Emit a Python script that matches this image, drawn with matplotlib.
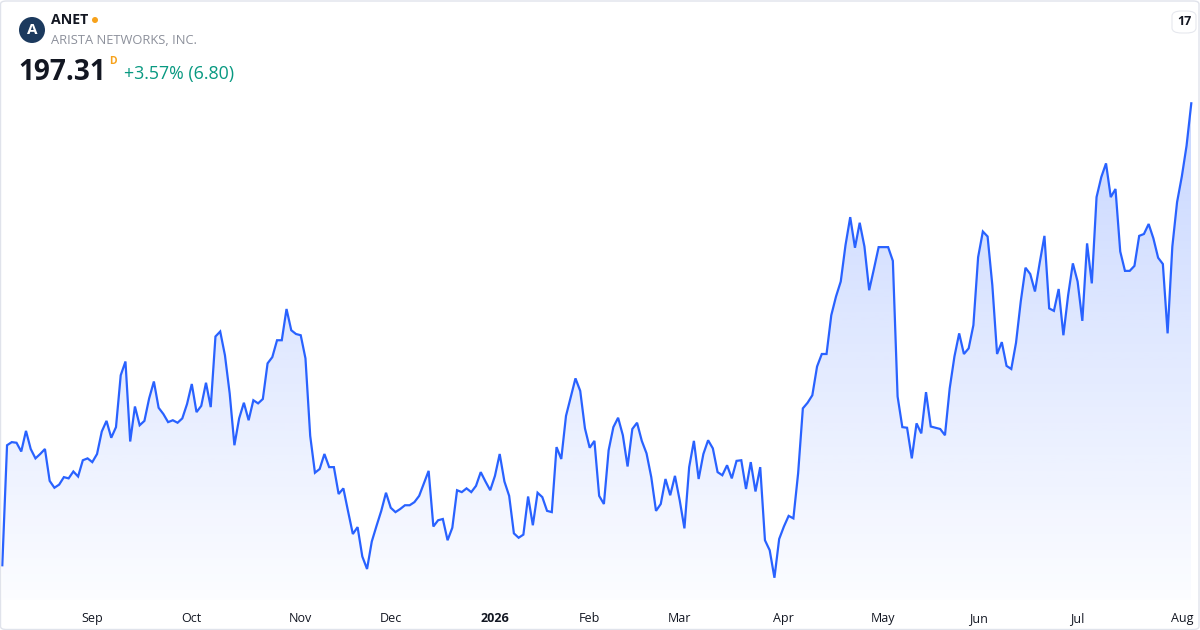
import matplotlib
matplotlib.use("Agg")
import matplotlib.pyplot as plt
import numpy as np
import pandas as pd
from matplotlib.patches import FancyBboxPatch, Ellipse

# ---------------- data ----------------
ticker = "ANET"
company = "ARISTA NETWORKS, INC."
last_price_text = "197.31"
change_text = "+3.57% (6.80)"

holidays = ["2025-09-01", "2025-11-27", "2025-12-25", "2026-01-01", "2026-01-19",
            "2026-02-16", "2026-04-03", "2026-05-25", "2026-06-19", "2026-07-03"]
start_date = "2025-08-05"
end_date = "2026-08-05"

prices = [
    123.4, 142.6, 143.1, 143.0, 141.6, 144.9, 142.0, 140.5, 141.2, 142.0,
    136.9, 135.8, 136.3, 137.5, 137.3, 138.4, 137.6, 140.2, 140.5, 139.9,
    141.2, 144.8, 146.5, 143.8, 145.5, 153.8, 156.0, 143.2, 148.8, 145.8,
    146.5, 150.1, 152.8, 148.6, 147.6, 146.3, 146.6, 146.2, 146.9, 149.2,
    152.4, 147.9, 148.9, 152.6, 148.7, 160.0, 160.8, 157.0, 150.9, 142.6,
    146.9, 149.4, 146.6, 149.8, 149.3, 150.0, 155.7, 156.7, 159.4, 159.4,
    164.4, 161.0, 160.4, 160.2, 156.5, 144.1, 138.2, 138.8, 141.2, 139.1,
    139.1, 134.8, 135.7, 132.0, 128.4, 129.5, 124.8, 122.8, 127.2, 129.7,
    132.1, 135.0, 132.6, 131.9, 132.4, 133.0, 133.0, 133.5, 134.5, 136.5,
    138.5, 129.6, 130.6, 130.8, 127.4, 129.4, 135.4, 135.1, 135.7, 135.1,
    136.1, 138.3, 136.8, 135.4, 137.7, 141.2, 136.8, 134.5, 128.5, 127.8,
    128.3, 134.4, 129.8, 135.0, 134.3, 132.1, 131.9, 142.3, 140.4, 147.3,
    150.3, 153.3, 151.3, 145.3, 142.2, 143.3, 134.5, 133.2, 141.8, 145.5,
    147.0, 144.2, 139.2, 145.2, 146.2, 143.3, 141.3, 137.5, 132.1, 133.2,
    137.2, 134.6, 137.7, 133.8, 129.3, 139.1, 143.3, 137.2, 141.2, 143.4,
    142.1, 138.3, 137.8, 139.4, 137.3, 140.1, 140.2, 135.6, 139.9, 135.2,
    139.1, 127.4, 125.8, 121.4, 127.6, 129.6, 131.3, 130.9, 138.1, 148.5,
    149.4, 150.6, 155.2, 157.2, 157.2, 163.4, 166.4, 168.8, 174.6, 179.1,
    174.2, 178.2, 174.4, 167.4, 170.8, 174.3, 174.3, 174.3, 172.1, 150.4,
    145.5, 145.4, 140.5, 146.1, 144.5, 151.1, 145.6, 145.4, 145.2, 144.2,
    151.7, 156.8, 160.5, 157.2, 158.1, 161.8, 172.7, 176.8, 176.0, 168.2,
    157.2, 159.1, 155.3, 154.8, 159.0, 165.6, 171.0, 170.0, 167.2, 171.8,
    176.1, 164.5, 164.1, 167.6, 160.2, 166.6, 171.7, 168.8, 162.5, 174.9,
    168.5, 182.3, 185.5, 187.7, 182.3, 183.6, 173.6, 170.5, 170.5, 171.3,
    176.1, 176.4, 178.0, 175.7, 172.6, 171.6, 160.5, 174.4, 181.5, 185.6,
    190.51, 197.31,
]

# ---------------- build ----------------
W, H = 1200, 630
fig = plt.figure(figsize=(W / 100, H / 100), dpi=100)
fig.patch.set_facecolor("white")

FONT = ["Open Sans", "DejaVu Sans"]
plt.rcParams["font.family"] = FONT

dates = pd.bdate_range(start_date, end_date, freq="C", holidays=holidays)
n = min(len(dates), len(prices))
dates = dates[:n]
y = np.array(prices[:n], dtype=float)
x = np.arange(n)

ax = fig.add_axes([0, 30 / H, 1, 510 / H])
ax.set_facecolor("none")
step = 4.737
x0 = 2.3
ax.set_xlim(-x0 / step, (W - x0) / step)
ymin, ymax = 117.84, 199.44
ax.set_ylim(ymin, ymax)

line_color = "#2962FF"
ax.plot(x, y, color=line_color, lw=1.6, solid_joinstyle="miter", zorder=3)

# gradient fill under the line
poly = ax.fill_between(x, y, ymin, facecolor="none", edgecolor="none")
grad_n = 256
alphas = np.linspace(0.26, 0.015, grad_n)  # top -> bottom
rgba = np.zeros((grad_n, 1, 4))
rgba[:, 0, 0] = 41 / 255
rgba[:, 0, 1] = 98 / 255
rgba[:, 0, 2] = 255 / 255
rgba[:, 0, 3] = alphas
im = ax.imshow(rgba, extent=[x[0], x[-1], ymin, y.max()], aspect="auto",
               origin="upper", zorder=2, interpolation="bilinear")
im.set_clip_path(poly.get_paths()[0], transform=ax.transData)

# month ticks at first trading day of each month
s = pd.Series(x, index=dates)
firsts = s.groupby([dates.year, dates.month]).first()
tick_pos, tick_lab = [], []
for (yr, mo), idx in firsts.items():
    if idx == 0:
        continue
    tick_pos.append(idx)
    tick_lab.append(str(yr) if mo == 1 else dates[idx].strftime("%b"))
ax.set_xticks(tick_pos)
ax.set_xticklabels(tick_lab, fontsize=9, color="#131722")
for t in ax.get_xticklabels():
    if t.get_text().isdigit():
        t.set_fontweight("bold")
ax.tick_params(axis="x", length=0, pad=8.5)
ax.set_yticks([])
for sp in ax.spines.values():
    sp.set_visible(False)

# ---------------- header ----------------
def fx(px):
    return px / W

def fy(py):
    return 1 - py / H

logo = Ellipse((fx(32), fy(30)), width=26 / W, height=26 / H, transform=fig.transFigure,
               facecolor="#1c3a5e", edgecolor="none")
fig.patches.append(logo)
fig.text(fx(32), fy(30.5), "A", color="white", fontsize=11, fontweight="bold",
         ha="center", va="center")

fig.text(fx(51), fy(20), ticker, fontsize=10.2, fontweight="bold", color="#131722",
         ha="left", va="center")
dot = Ellipse((fx(95), fy(20)), width=6 / W, height=6 / H, transform=fig.transFigure,
              facecolor="#f7a21b", edgecolor="none")
fig.patches.append(dot)
fig.text(fx(51), fy(41), company, fontsize=9.3, color="#8c909b", ha="left", va="center")

fig.text(fx(18), fy(72), last_price_text, fontsize=20.2, fontweight="bold",
         color="#131722", ha="left", va="center")
fig.text(fx(109), fy(61), "D", fontsize=7.5, fontweight="bold", color="#f7a21b",
         ha="left", va="center")
fig.text(fx(124), fy(74), change_text, fontsize=12.8, color="#089981",
         ha="left", va="center")

# TradingView badge top right
badge = FancyBboxPatch((fx(1172), fy(33)), 24 / W, 22 / H,
                       boxstyle="round,pad=0,rounding_size=0.008",
                       transform=fig.transFigure, facecolor="white",
                       edgecolor="#e6e8ee", lw=0.8)
fig.patches.append(badge)
fig.text(fx(1184), fy(21.5), "17", fontsize=9, fontweight="bold", color="#131722",
         ha="center", va="center")

# outer frame
frame = FancyBboxPatch((0.5 / W, 0.5 / H), 1 - 1.5 / W, 1 - 1.5 / H,
                       boxstyle="round,pad=0,rounding_size=0.005",
                       transform=fig.transFigure, facecolor="none",
                       edgecolor="#e0e3eb", lw=1.0)
fig.patches.append(frame)

fig.savefig("out.png", dpi=100, facecolor="white")
